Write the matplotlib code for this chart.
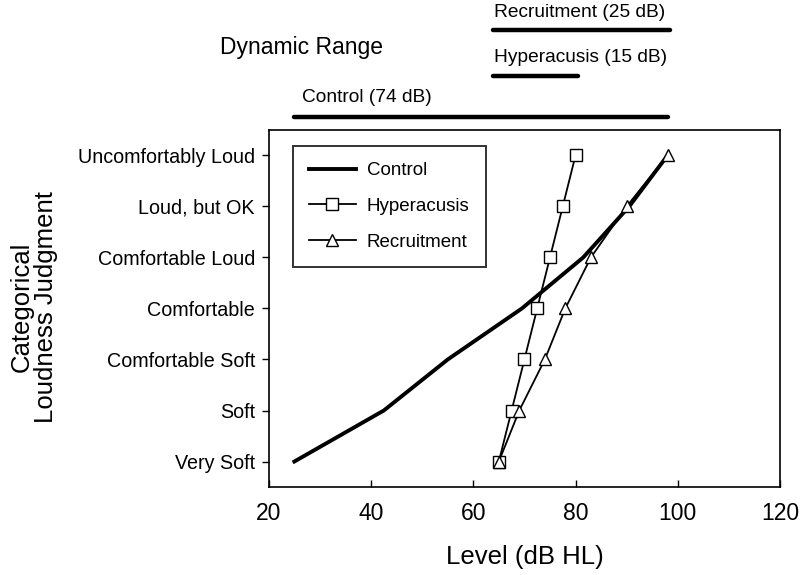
import matplotlib.pyplot as plt
from matplotlib.transforms import blended_transform_factory

plt.rcParams['font.family'] = ['Liberation Sans', 'DejaVu Sans']

# loudness categories (bottom to top)
categorias = ["Very Soft", "Soft", "Comfortable Soft", "Comfortable",
              "Comfortable Loud", "Loud, but OK", "Uncomfortably Loud"]
niveles_cat = [0, 1, 2, 3, 4, 5, 6]

# level (dB HL) for each category
control = [25, 42.5, 55, 69.5, 81.5, 90.5, 98]
hiperacusia = [65, 67.5, 70, 72.5, 75, 77.5, 80]
reclutamiento = [65, 69, 74, 78, 83, 90, 98]

# dynamic range bars: (label, start dB, end dB)
rango_etiquetas = ["Recruitment (25 dB)", "Hyperacusis (15 dB)", "Control (74 dB)"]
rango_inicio = [63.8, 63.8, 25]
rango_fin = [98.5, 80.5, 98]

fig = plt.figure(figsize=(8, 5.75), dpi=100)
ax = fig.add_axes([0.336, 0.153, 0.639, 0.621])

ax.plot(control, niveles_cat, color='black', lw=2.8, label='Control')
ax.plot(hiperacusia, niveles_cat, color='black', lw=1.3, marker='s',
        markersize=8, markerfacecolor='white', markeredgecolor='black',
        markeredgewidth=1.0, label='Hyperacusis')
ax.plot(reclutamiento, niveles_cat, color='black', lw=1.3, marker='^',
        markersize=9, markerfacecolor='white', markeredgecolor='black',
        markeredgewidth=1.0, label='Recruitment')

ax.set_xlim(20, 120)
ax.set_ylim(-0.5, 6.5)
ax.set_xticks([20, 40, 60, 80, 100, 120])
ax.set_yticks(niveles_cat)
ax.set_yticklabels(categorias)
ax.tick_params(axis='x', direction='in', length=5, width=1, labelsize=16.5, pad=11)
ax.tick_params(axis='y', direction='out', length=5, width=1, labelsize=14.2, pad=5)
for s in ax.spines.values():
    s.set_linewidth(1.2)

ax.set_xlabel("Level (dB HL)", fontsize=18.5, labelpad=14)
fig.text(0.042, 0.466, "Categorical\nLoudness Judgment", rotation=90,
         fontsize=18.5, ha='center', va='center', linespacing=1.0)

leg = ax.legend(loc='upper left', bbox_to_anchor=(0.047, 0.955), fontsize=13.5,
                frameon=True, fancybox=False, edgecolor='black',
                borderaxespad=0, handlelength=2.5, borderpad=0.85,
                labelspacing=1.0, handletextpad=0.6)
leg.get_frame().set_linewidth(1.4)

# dynamic range bars above the axes
trans = blended_transform_factory(ax.transData, fig.transFigure)
barras_y = [0.948, 0.868, 0.797]
texto_y = [0.978, 0.900, 0.830]
for et, x0, x1, by, ty in zip(rango_etiquetas, rango_inicio, rango_fin, barras_y, texto_y):
    ax.plot([x0, x1], [by, by], color='black', lw=3.2, solid_capstyle='round',
            transform=trans, clip_on=False)
    xt = 64.0 if x0 > 50 else 26.5
    ax.text(xt, ty, et, transform=trans, fontsize=13.8, ha='left', va='center')

fig.text(0.275, 0.918, "Dynamic Range", fontsize=16.5, ha='left', va='center')

plt.savefig('out.png', dpi=100)
